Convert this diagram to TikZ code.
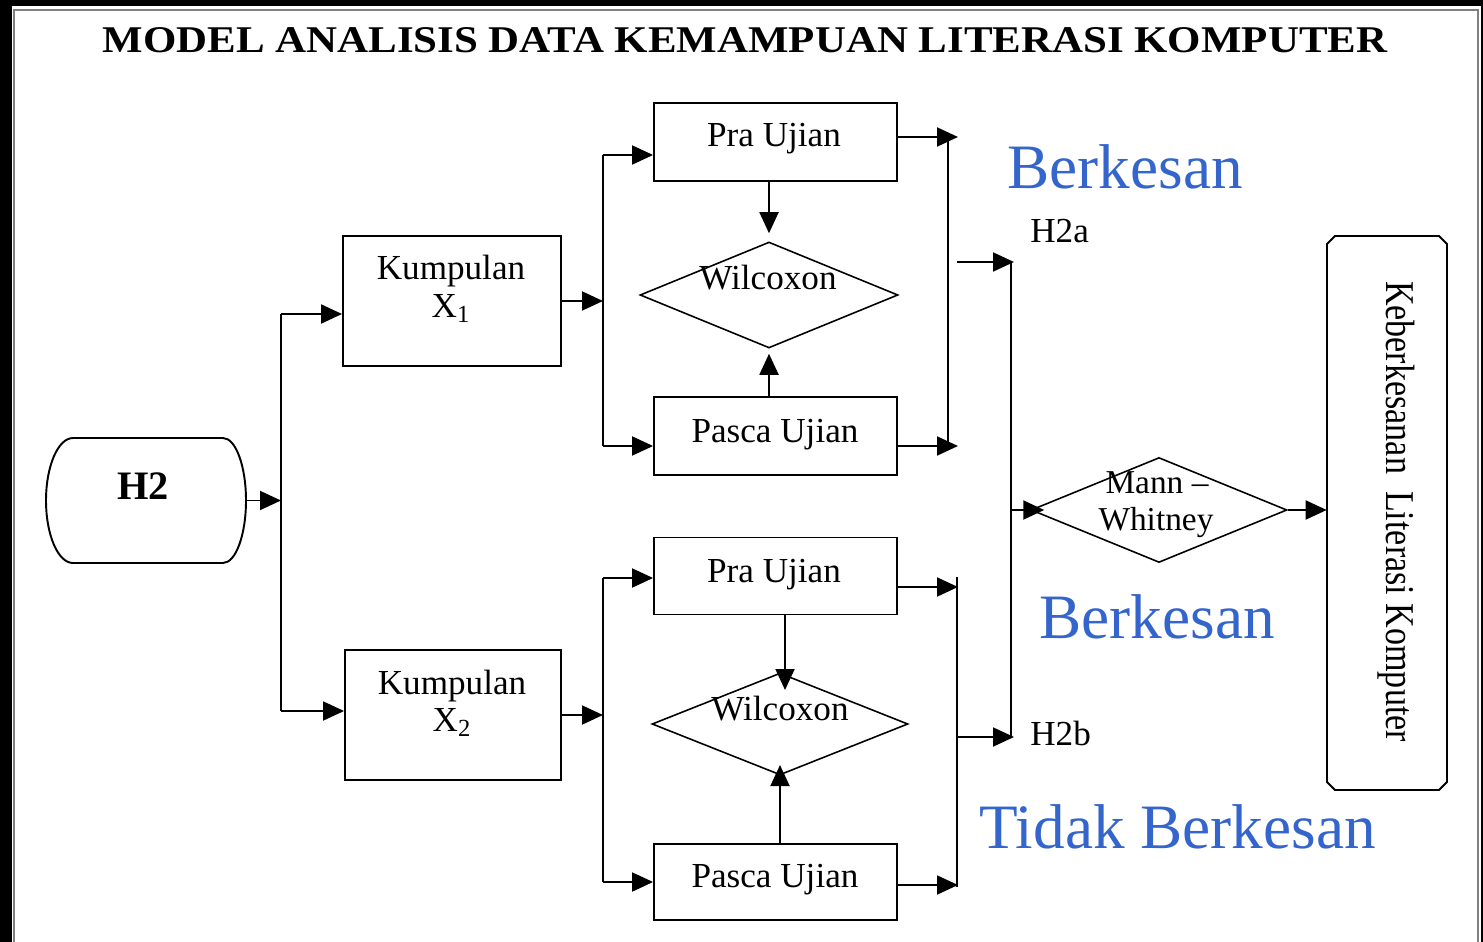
\documentclass[tikz,border=0pt]{standalone}
\usepackage{fontspec}
\usepackage{graphicx}
\setmainfont{Liberation Serif}
\usetikzlibrary{arrows.meta,shapes.geometric}
\definecolor{lblue}{RGB}{52,101,204}
\begin{document}
\begin{tikzpicture}[x=0.02cm,y=-0.02cm,
  line/.style={line width=1.1pt},
  arr/.style={line width=1.1pt,-{Triangle[length=0.42cm,width=0.38cm]}},
  boxn/.style={draw,line width=1.1pt,inner sep=0pt,rectangle},
  dia/.style={draw,line width=0.9pt,diamond,inner sep=0pt},
  txt/.style={font=\fontsize{20pt}{22pt}\selectfont,anchor=base,inner sep=0pt},
  lbl/.style={font=\fontsize{36pt}{40pt}\selectfont,text=lblue,anchor=base west,inner sep=0pt}]
\useasboundingbox (0,0) rectangle (1483,942);
% frame
\fill[black] (0,0) rectangle (12,942);
\fill[black] (0,0) rectangle (1483,6);
\fill[black] (1481,0) rectangle (1483,942);
\draw[gray,line width=0.6pt] (14,942) -- (14,10) -- (1478,10) -- (1478,942);
% title
\node[anchor=base,inner sep=0pt] (title) at (745,53) {\resizebox{25.7cm}{0.5cm}{\bfseries MODEL ANALISIS DATA KEMAMPUAN LITERASI KOMPUTER}};
% H2
\node[inner sep=0pt,minimum width=4cm,minimum height=2.5cm] (h2) at (146,500.5) {};
\draw[line] (73,438) -- (223,438) arc[start angle=90,end angle=-90,x radius=0.46cm,y radius=1.25cm] -- (73,563) arc[start angle=270,end angle=90,x radius=0.54cm,y radius=1.25cm] -- cycle;
\node[txt,font=\fontsize{23pt}{25pt}\selectfont\bfseries] (h2t) at (143,499) {H2};
% Kumpulan
\node[boxn,minimum width=4.36cm,minimum height=2.6cm] (x1) at (452,301) {};
\node[txt] (x1a) at (451,280) {Kumpulan};
\node[txt] (x1b) at (451,317) {X\textsubscript{1}};
\node[boxn,minimum width=4.32cm,minimum height=2.6cm] (x2) at (453,715) {};
\node[txt] (x2a) at (452,694) {Kumpulan};
\node[txt] (x2b) at (452,731) {X\textsubscript{2}};
% upper tests
\node[boxn,minimum width=4.86cm,minimum height=1.56cm] (pra1) at (775.5,142) {};
\node[txt] (pra1t) at (774,147) {Pra Ujian};
\node[boxn,minimum width=4.86cm,minimum height=1.56cm] (pasca1) at (775.5,436) {};
\node[txt] (pasca1t) at (775,442) {Pasca Ujian};
\node[dia,minimum width=5.16cm,minimum height=2.12cm] (wil1) at (769,295) {};
\node[txt] (wil1t) at (768,290) {Wilcoxon};
% lower tests
\node[boxn,minimum width=4.86cm,minimum height=1.54cm] (pra2) at (775.5,576) {};
\node[txt] (pra2t) at (774,582) {Pra Ujian};
\node[boxn,minimum width=4.86cm,minimum height=1.52cm] (pasca2) at (775.5,882) {};
\node[txt] (pasca2t) at (775,887) {Pasca Ujian};
\node[dia,minimum width=5.12cm,minimum height=2.04cm] (wil2) at (780,724) {};
\node[txt] (wil2t) at (780,720) {Wilcoxon};
% Mann-Whitney
\node[dia,minimum width=5.12cm,minimum height=2.1cm] (mw) at (1159,510) {};
\node[txt,font=\fontsize{19pt}{21pt}\selectfont] (mwa) at (1157,493) {Mann --};
\node[txt,font=\fontsize{19pt}{21pt}\selectfont] (mwb) at (1156,530) {Whitney};
% result box
\node[inner sep=0pt,minimum width=2.4cm,minimum height=11.08cm] (keb) at (1387,513) {};
\draw[line] (1335,236) -- (1439,236) -- (1447,244) -- (1447,782) -- (1439,790) -- (1335,790) -- (1327,782) -- (1327,244) -- cycle;
\node[txt,font=\fontsize{19.4pt}{21pt}\selectfont,rotate=-90] (kebt) at (1386,511.5) {\scalebox{1}[1.2]{Keberkesanan\ \ Literasi Komputer}};
% labels
\node[txt,anchor=base west] (h2a) at (1030,243) {H2a};
\node[txt,anchor=base west] (h2b) at (1030,745) {H2b};
\node[lbl] (bk1) at (1007,189) {Berkesan};
\node[lbl] (bk2) at (1039,638) {Berkesan};
\node[lbl] (tbk) at (979,848) {Tidak Berkesan};
% connectors left
\coordinate (b1t) at (281,314); \coordinate (b1b) at (281,711);
\draw[line] (b1t) -- (b1b);
\draw[arr] (h2.east) -- (h2.east -| b1t);
\draw[arr] (b1t) -- (b1t -| x1.west);
\draw[arr] (b1b) -- (b1b -| x2.west);
% upper branch
\coordinate (b2t) at (603,155); \coordinate (b2b) at (603,446);
\draw[line] (b2t) -- (b2b);
\draw[arr] (x1.east) -- (x1.east -| b2t);
\draw[arr] (b2t) -- (b2t -| pra1.west);
\draw[arr] (b2b) -- (b2b -| pasca1.west);
\draw[arr,shorten >=0.16cm] (wil1.north |- pra1.south) -- (wil1.north);
\draw[arr,shorten >=0.1cm] (wil1.south |- pasca1.north) -- (wil1.south);
\coordinate (r1) at (958,137); \coordinate (r2) at (958,446);
\draw[arr] (pra1.east |- r1) -- (r1);
\draw[arr] (pasca1.east |- r2) -- (r2);
\coordinate (b3t) at (948,137); \coordinate (b3b) at (948,446);
\draw[line] (b3t) -- (b3b);
% lower branch
\coordinate (b4t) at (603,578); \coordinate (b4b) at (603,882);
\draw[line] (b4t) -- (b4b);
\draw[arr] (x2.east) -- (x2.east -| b4t);
\draw[arr] (b4t) -- (b4t -| pra2.west);
\draw[arr] (b4b) -- (b4b -| pasca2.west);
\coordinate (w2a) at (785,690); \coordinate (w2b) at (780,765);
\draw[arr] (w2a |- pra2.south) -- (w2a);
\draw[arr] (w2b |- pasca2.north) -- (w2b);
\coordinate (r3) at (958,587); \coordinate (r4) at (958,885);
\draw[arr] (pra2.east |- r3) -- (r3);
\draw[arr] (pasca2.east |- r4) -- (r4);
\coordinate (b5t) at (957,577); \coordinate (b5b) at (957,887);
\draw[line] (b5t) -- (b5b);
% H2a / H2b to Mann-Whitney
\coordinate (h2as) at (957,262); \coordinate (h2ae) at (1014,262);
\coordinate (h2bs) at (957,737); \coordinate (h2be) at (1014,737);
\draw[arr] (h2as) -- (h2ae);
\draw[arr] (h2bs) -- (h2be);
\coordinate (v1t) at (1011,262); \coordinate (v1b) at (1011,737);
\draw[line] (v1t) -- (v1b);
\draw[arr,shorten >=-0.28cm] (v1t |- mw.west) -- (mw.west);
\draw[arr] (mw.east) -- (mw.east -| keb.west);
\end{tikzpicture}
\end{document}
